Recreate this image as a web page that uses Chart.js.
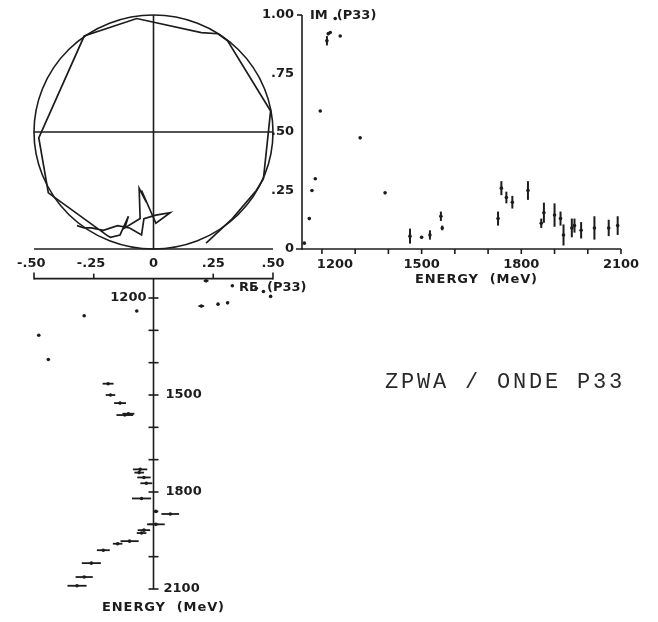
<!DOCTYPE html>
<html>
<head>
<meta charset="utf-8">
<script src="https://cdn.jsdelivr.net/npm/chart.js@4/dist/chart.umd.min.js"></script>
<style>
  html, body { margin: 0; padding: 0; background: #fff; }
  #wrap { position: relative; width: 658px; height: 622px; overflow: hidden; background: #fff; }
  #wrap canvas { position: absolute; left: 0; top: 0; }
  #caption {
    position: absolute; left: 385px; top: 371px;
    font-family: "Liberation Mono", "DejaVu Sans Mono", monospace;
    font-size: 22px; line-height: 24px; letter-spacing: 2.8px;
    color: #2a2a2a; white-space: pre;
  }
</style>
</head>
<body>
<div id="wrap">
  <canvas id="argand" width="658" height="622"></canvas>
  <canvas id="imag" width="658" height="622"></canvas>
  <canvas id="real" width="658" height="622"></canvas>
  <div id="caption">ZPWA / ONDE P33</div>
</div>
<script>
// P33 partial-wave amplitude: energy (MeV), real and imaginary parts, errors
const energy = [1147, 1162, 1170, 1180, 1195, 1215, 1219, 1225, 1240, 1255, 1315, 1390,
                1465, 1500, 1525, 1558, 1562,
                1730, 1740, 1755, 1773, 1820, 1860, 1868, 1900, 1918, 1927, 1952, 1960, 1980, 2020, 2063, 2090];
const reP33  = [0.22, 0.33, 0.43, 0.46, 0.49, 0.31, 0.27, 0.20, -0.07, -0.29, -0.48, -0.44,
                -0.19, -0.18, -0.14, -0.105, -0.12,
                -0.056, -0.06, -0.04, -0.03, -0.05, 0.01, 0.07, 0.01, -0.04, -0.05, -0.10, -0.15, -0.21, -0.26, -0.29, -0.32];
const imP33  = [0.025, 0.13, 0.25, 0.30, 0.59, 0.89, 0.92, 0.925, 0.985, 0.91, 0.475, 0.24,
                0.055, 0.05, 0.06, 0.14, 0.09,
                0.13, 0.26, 0.22, 0.20, 0.25, 0.11, 0.155, 0.145, 0.13, 0.06, 0.09, 0.10, 0.08, 0.09, 0.09, 0.10];
const reErr  = [0.01, 0, 0, 0, 0, 0, 0, 0.012, 0, 0, 0, 0,
                0.023, 0.02, 0.025, 0.025, 0.035,
                0.03, 0.02, 0.028, 0.025, 0.04, 0.01, 0.037, 0.037, 0.026, 0.02, 0.038, 0.02, 0.027, 0.04, 0.036, 0.04];
const imErr  = [0, 0, 0, 0, 0, 0.02, 0.006, 0, 0, 0, 0, 0,
                0.032, 0.005, 0.02, 0.02, 0.01,
                0.03, 0.03, 0.025, 0.027, 0.04, 0.02, 0.043, 0.05, 0.03, 0.045, 0.04, 0.03, 0.035, 0.05, 0.035, 0.04];

// axis ticks and labels
const reTicks      = [-0.5, -0.25, 0, 0.25, 0.5];
const reTickLabels = ['-.50', '-.25', '0', '.25', '.50'];
const imTicks      = [0, 0.25, 0.5, 0.75, 1];
const imTickLabels = ['0', '.25', '.50', '.75', '1.00'];
const energyTicks  = [1200, 1300, 1400, 1500, 1600, 1700, 1800, 1900, 2000, 2100];
const energyLabels = [1200, 1500, 1800, 2100];

const E_MIN = 1140, E_MAX = 2100;
const ink = '#1c1c1c';
const tickFont = 'bold 13px "DejaVu Sans", sans-serif';
const titleFont = 'bold 13px "DejaVu Sans", sans-serif';

function seg(ctx, x1, y1, x2, y2) {
  ctx.beginPath(); ctx.moveTo(x1, y1); ctx.lineTo(x2, y2); ctx.stroke();
}
function prep(ctx) {
  ctx.save();
  ctx.strokeStyle = ink; ctx.fillStyle = ink; ctx.lineWidth = 1.6; ctx.lineCap = 'butt';
}
function spaced(ctx, px) { if ('letterSpacing' in ctx) ctx.letterSpacing = px + 'px'; }

const baseOptions = (pad, xs, ys) => ({
  responsive: false, animation: false, devicePixelRatio: 1,
  layout: { padding: pad },
  scales: { x: Object.assign({ type: 'linear', display: false }, xs),
            y: Object.assign({ type: 'linear', display: false }, ys) },
  plugins: { legend: { display: false }, tooltip: { enabled: false } },
  events: []
});

// ---------- Argand diagram: Im vs Re ----------
const argandFrame = {
  id: 'argandFrame',
  beforeDatasetsDraw(chart) {
    const { ctx, scales: { x, y } } = chart;
    prep(ctx);
    const xl = x.getPixelForValue(-0.5), xr = x.getPixelForValue(0.5), xc = x.getPixelForValue(0);
    const yb = y.getPixelForValue(0), yt = y.getPixelForValue(1), ym = y.getPixelForValue(0.5);
    // unitarity circle
    ctx.beginPath();
    ctx.ellipse(xc, ym, (xr - xl) / 2, (yb - yt) / 2, 0, 0, Math.PI * 2);
    ctx.stroke();
    seg(ctx, xl, yb, xr, yb);
    seg(ctx, xl, ym, xr, ym);
    seg(ctx, xc, yb, xc, yt);
    // Re tick labels under the diagram
    ctx.font = tickFont; ctx.textBaseline = 'middle'; ctx.textAlign = 'right';
    reTicks.forEach((v, k) => {
      const lab = reTickLabels[k];
      const core = lab.replace('-', '');
      const w = ctx.measureText(core).width;
      ctx.fillText(lab, x.getPixelForValue(v) + w / 2, yb + 15);
    });
    ctx.restore();
  }
};

new Chart(document.getElementById('argand'), {
  type: 'scatter',
  data: { datasets: [{
    data: energy.map((e, i) => ({ x: reP33[i], y: imP33[i] })),
    showLine: true, borderColor: ink, borderWidth: 1.7, pointRadius: 0,
    tension: 0, fill: false, clip: false
  }] },
  options: baseOptions({ left: 34, right: 658 - 273, top: 15, bottom: 622 - 249 },
                       { min: -0.5, max: 0.5 }, { min: 0, max: 1 }),
  plugins: [argandFrame]
});

// ---------- Im(P33) vs energy ----------
const imFrame = {
  id: 'imFrame',
  beforeDatasetsDraw(chart) {
    const { ctx, scales: { x, y } } = chart;
    prep(ctx);
    const x0 = x.getPixelForValue(E_MIN), x1 = x.getPixelForValue(E_MAX);
    const y0 = y.getPixelForValue(0), y1 = y.getPixelForValue(1);
    seg(ctx, x0, y0 + 0.8, x0, y1);
    seg(ctx, x0 - 6, y0, x1, y0);
    seg(ctx, x0 - 5, y1, x0, y1);
    energyTicks.forEach(e => { const p = x.getPixelForValue(e); seg(ctx, p, y0, p, y0 + 5); });
    ctx.font = tickFont; ctx.textBaseline = 'middle'; ctx.textAlign = 'center';
    energyLabels.forEach((e, k) => {
      const p = x.getPixelForValue(e);
      // first label is nudged right to clear the vertical axis
      ctx.fillText(String(e), k === 0 ? p + 13 : p, y0 + 16);
    });
    ctx.textAlign = 'right';
    imTicks.forEach((v, k) => ctx.fillText(imTickLabels[k], x0 - 8, y.getPixelForValue(v)));
    ctx.font = titleFont; ctx.textAlign = 'left';
    ctx.fillText('IM  (P33)', x0 + 8, y1 + 1);
    spaced(ctx, 0.9); ctx.textAlign = 'center';
    ctx.fillText('ENERGY  (MeV)', (x0 + x1) / 2 + 15, y0 + 31);
    ctx.restore();
  },
  afterDatasetsDraw(chart) {
    const { ctx, scales: { x, y } } = chart;
    prep(ctx); ctx.lineWidth = 2;
    energy.forEach((e, i) => {
      if (!imErr[i]) return;
      const p = x.getPixelForValue(e);
      seg(ctx, p, y.getPixelForValue(imP33[i] - imErr[i]), p, y.getPixelForValue(imP33[i] + imErr[i]));
    });
    ctx.restore();
  }
};

new Chart(document.getElementById('imag'), {
  type: 'scatter',
  data: { datasets: [{
    data: energy.map((e, i) => ({ x: e, y: imP33[i] })),
    pointRadius: 1.8, pointBackgroundColor: ink, pointBorderWidth: 0, clip: false
  }] },
  options: baseOptions({ left: 302, right: 658 - 621, top: 15, bottom: 622 - 249 },
                       { min: E_MIN, max: E_MAX }, { min: 0, max: 1 }),
  plugins: [imFrame]
});

// ---------- Re(P33) vs energy (energy downward) ----------
const reFrame = {
  id: 'reFrame',
  beforeDatasetsDraw(chart) {
    const { ctx, scales: { x, y } } = chart;
    prep(ctx);
    const xl = x.getPixelForValue(-0.5), xr = x.getPixelForValue(0.5), xc = x.getPixelForValue(0);
    const yt = y.getPixelForValue(E_MIN), yb = y.getPixelForValue(E_MAX);
    seg(ctx, xl, yt, xr, yt);
    seg(ctx, xl, yt + 0.8, xl, yt - 6);
    seg(ctx, xr, yt + 0.8, xr, yt - 6);
    [-0.25, 0.25].forEach(v => { const p = x.getPixelForValue(v); seg(ctx, p, yt, p, yt - 5); });
    seg(ctx, xc, yt, xc, yb);
    energyTicks.forEach(e => { const p = y.getPixelForValue(e); seg(ctx, xc - 5, p, xc + 5, p); });
    ctx.font = tickFont; ctx.textBaseline = 'middle';
    energyLabels.forEach((e, k) => {
      const p = y.getPixelForValue(e);
      if (k === 0) { ctx.textAlign = 'right'; ctx.fillText(String(e), xc - 7, p); }
      else { ctx.textAlign = 'left'; ctx.fillText(String(e), xc + (k === 3 ? 10 : 12), p); }
    });
    ctx.font = titleFont; ctx.textAlign = 'left';
    ctx.fillText('RE  (P33)', 239, yt + 9);
    spaced(ctx, 0.9); ctx.textAlign = 'center';
    ctx.fillText('ENERGY  (MeV)', xc + 10, yb + 19);
    ctx.restore();
  },
  afterDatasetsDraw(chart) {
    const { ctx, scales: { x, y } } = chart;
    prep(ctx); ctx.lineWidth = 1.8;
    energy.forEach((e, i) => {
      if (!reErr[i]) return;
      const p = y.getPixelForValue(e);
      seg(ctx, x.getPixelForValue(reP33[i] - reErr[i]), p, x.getPixelForValue(reP33[i] + reErr[i]), p);
    });
    ctx.restore();
  }
};

new Chart(document.getElementById('real'), {
  type: 'scatter',
  data: { datasets: [{
    data: energy.map((e, i) => ({ x: reP33[i], y: e })),
    pointRadius: 1.8, pointBackgroundColor: ink, pointBorderWidth: 0, clip: false
  }] },
  options: baseOptions({ left: 34, right: 658 - 273, top: 278.6, bottom: 622 - 589 },
                       { min: -0.5, max: 0.5 }, { min: E_MIN, max: E_MAX, reverse: true }),
  plugins: [reFrame]
});
</script>
</body>
</html>
